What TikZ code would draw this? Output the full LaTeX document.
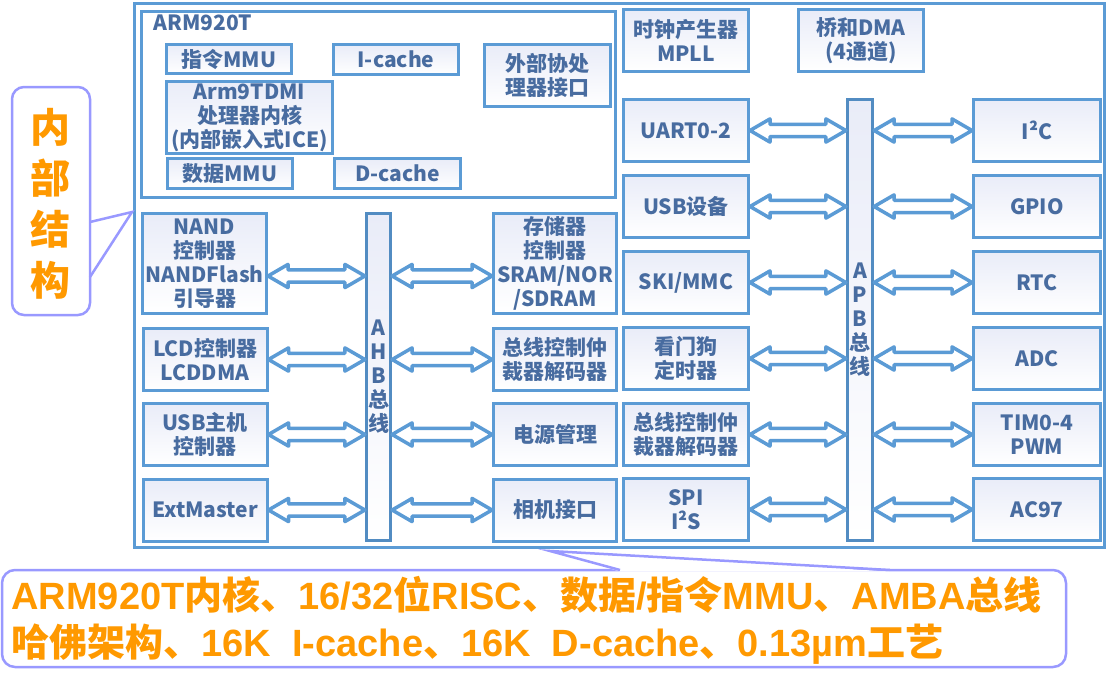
\documentclass[tikz,border=0pt]{standalone}
\usepackage{fontspec}
\setmainfont{Noto Sans CJK SC}
\newfontfamily\latf{Liberation Sans}
\usetikzlibrary{calc}
\definecolor{boxblue}{RGB}{91,155,213}
\definecolor{barblue}{RGB}{82,140,194}
\definecolor{boxtint}{RGB}{233,236,248}
\definecolor{txtblue}{RGB}{72,108,160}
\definecolor{callline}{RGB}{153,153,255}
\definecolor{callorange}{RGB}{255,153,0}
\newcommand{\engl}[1]{{\latf #1}}
\tikzset{
	frame/.style={draw=boxblue, line width=1.5pt, fill=white, inner sep=0pt},
	blk/.style={draw=boxblue, line width=1.5pt, top color=boxtint, bottom color=white, text=txtblue, font=\bfseries\fontsize{10.5}{12}\selectfont, align=center, inner sep=0pt, minimum width=62.5pt, minimum height=31pt},
	bus/.style={draw=barblue, line width=1.6pt, top color=boxtint, bottom color=white, text=txtblue, font=\bfseries\fontsize{10.5}{12}\selectfont, align=center, inner sep=0pt, minimum width=12pt},
	busarrow/.style={draw=boxblue, fill=white, line width=1.75pt, line join=round,
		to path={let \p1=(\tikztostart), \p2=(\tikztotarget) in
			(\x1,\y1) -- (\x1+10pt,\y1+5.8pt) -- (\x1+10pt,\y1+3.1pt) -- (\x2-10pt,\y1+3.1pt) -- (\x2-10pt,\y1+5.8pt) -- (\x2,\y1)
			-- (\x2-10pt,\y1-5.8pt) -- (\x2-10pt,\y1-3.1pt) -- (\x1+10pt,\y1-3.1pt) -- (\x1+10pt,\y1-5.8pt) -- cycle}},
	callout/.style={draw=callline, line width=1.25pt},
	calltext/.style={text=callorange, inner sep=0pt, font=\bfseries}
}

\begin{document}
\begin{tikzpicture}[x=0.5pt, y=-0.5pt]
			%%%%% START %%%%%
			\useasboundingbox (0,0) rectangle (1119,680);
			
			\node[frame, minimum width=485pt, minimum height=272pt] (chip) at (619.5,275.5) {};
			\node[frame, minimum width=237pt, minimum height=93pt] (arm) at (378.5,104.5) {};
			\node[anchor=west, text=txtblue, font=\bfseries\fontsize{10.5}{12}\selectfont, inner sep=0pt] (armname) at (153,23) {ARM920T};
			
			\node[blk, minimum height=14.5pt] (immu) at (229,59) {指令MMU};
			\node[blk, minimum height=15pt] (icache) at (396,59.5) {I-cache};
			\node[blk, minimum width=63pt] (cop) at (547.5,75.5) {外部协处\\理器接口};
			\node[blk, minimum width=83pt, minimum height=36pt] (core) at (249.5,117.5) {Arm9TDMI\\处理器内核\\(内部嵌入式ICE)};
			\node[blk, minimum height=15pt] (dmmu) at (230,173.5) {数据MMU};
			\node[blk, minimum width=63pt, minimum height=15pt] (dcache) at (397.5,173.5) {D-cache};
			
			\node[blk] (clk) at (686,40.5) {时钟产生器\\MPLL};
			\node[blk] (dma) at (861,40.5) {桥和DMA\\(4通道)};
			
			\node[bus, minimum height=163.5pt] (ahb) at (378.5,377) {A\\H\\B\\总\\线};
			\node[blk, minimum width=62pt, minimum height=50pt] (nand) at (204.5,263.5) {NAND\\控制器\\NANDFlash\\引导器};
			\node[blk, minimum width=62pt] (lcd) at (205,359.5) {LCD控制器\\LCDDMA};
			\node[blk, minimum width=62pt] (usbh) at (205,434.5) {USB主机\\控制器};
			\node[blk, minimum width=62pt] (extm) at (205,510) {ExtMaster};
			\node[blk, minimum width=61.5pt, minimum height=50pt] (memc) at (555,263.5) {存储器\\控制器\\SRAM/NOR\\/SDRAM};
			\node[blk, minimum width=61.5pt] (arb) at (555,359.5) {总线控制仲\\裁器解码器};
			\node[blk, minimum width=61.5pt] (pwr) at (555,434.5) {电源管理};
			\node[blk, minimum width=61.5pt] (cam) at (555,510) {相机接口};
			
			\node[bus, minimum width=12.5pt, minimum height=220.5pt] (apb) at (860,320) {A\\P\\B\\总\\线};
			\node[blk] (uart) at (686,130.5) {UART0-2};
			\node[blk] (usbd) at (686,206.5) {USB设备};
			\node[blk] (sdmmc) at (686,282.5) {SKI/MMC};
			\node[blk] (wdt) at (686,358.5) {看门狗\\定时器};
			\node[blk] (arbp) at (686,434.5) {总线控制仲\\裁器解码器};
			\node[blk] (spi) at (686,509.5) {SPI\\I²S};
			\node[blk, minimum width=63.5pt] (iic) at (1037,130.5) {I²C};
			\node[blk, minimum width=63.5pt] (gpio) at (1037,206.5) {GPIO};
			\node[blk, minimum width=63.5pt] (rtc) at (1037,282.5) {RTC};
			\node[blk, minimum width=63.5pt] (adc) at (1037,358.5) {ADC};
			\node[blk, minimum width=63.5pt] (timer) at (1037,434.5) {TIM0-4\\PWM};
			\node[blk, minimum width=63.5pt] (ac97) at (1037,509.5) {AC97};
			
			\draw[busarrow] (nand.east |- 0,276) to (ahb.west |- 0,276);
			\draw[busarrow] (lcd.east) to (ahb.west |- lcd.east);
			\draw[busarrow] (usbh.east) to (ahb.west |- usbh.east);
			\draw[busarrow] (extm.east) to (ahb.west |- extm.east);
			\draw[busarrow] (ahb.east |- 0,276) to (memc.west |- 0,276);
			\draw[busarrow] (ahb.east |- arb.west) to (arb.west);
			\draw[busarrow] (ahb.east |- pwr.west) to (pwr.west);
			\draw[busarrow] (ahb.east |- cam.west) to (cam.west);
			
			\draw[busarrow] (uart.east) to (apb.west |- uart.east);
			\draw[busarrow] (usbd.east) to (apb.west |- usbd.east);
			\draw[busarrow] (sdmmc.east) to (apb.west |- sdmmc.east);
			\draw[busarrow] (wdt.east) to (apb.west |- wdt.east);
			\draw[busarrow] (arbp.east) to (apb.west |- arbp.east);
			\draw[busarrow] (spi.east) to (apb.west |- spi.east);
			\draw[busarrow] (apb.east |- iic.west) to (iic.west);
			\draw[busarrow] (apb.east |- gpio.west) to (gpio.west);
			\draw[busarrow] (apb.east |- rtc.west) to (rtc.west);
			\draw[busarrow] (apb.east |- adc.west) to (adc.west);
			\draw[busarrow] (apb.east |- timer.west) to (timer.west);
			\draw[busarrow] (apb.east |- ac97.west) to (ac97.west);
			
			\draw[callout, rounded corners=6pt] (12,87) rectangle (90,315);
			\fill[white] (91.5,222) -- (132,212) -- (91.5,277) -- cycle;
			\draw[callout] (90,222) -- (132,212) -- (90,277);
			\node[calltext, align=center, font=\bfseries\fontsize{20}{25.5}\selectfont] (inner) at (51,204) {内\\部\\结\\构};
			
			\draw[callout, rounded corners=6.5pt] (2,570) rectangle (1066,667);
			\fill[white] (620,571.5) -- (550,551) -- (890,571.5) -- cycle;
			\draw[callout] (620,570) -- (550,551) -- (890,570);
			\node[calltext, anchor=west, align=left, font=\bfseries\fontsize{19}{23.5}\selectfont] (summary) at (11,620)
				{\engl{ARM920T}内核、\engl{16/32}位\engl{RISC}、数据\engl{/}指令\engl{MMU}、\engl{AMBA}总线\\
				哈佛架构、\engl{16K\ \ I-cache}、\engl{16K\ \ D-cache}、\engl{0.13µm}工艺};
			%%%%% END %%%%%
\end{tikzpicture}
\end{document}
